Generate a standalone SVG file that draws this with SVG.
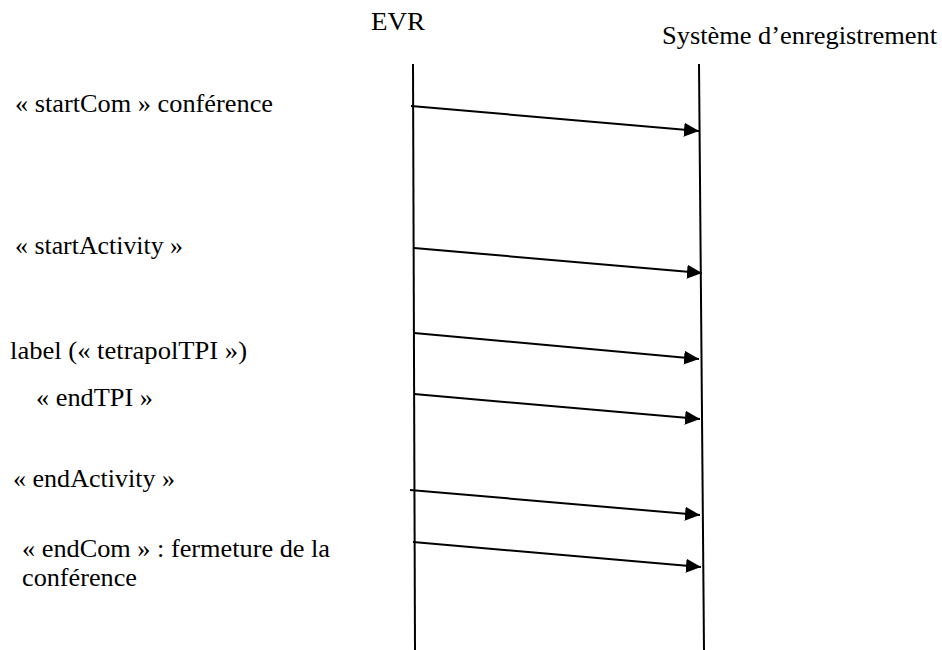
<svg xmlns="http://www.w3.org/2000/svg" width="942" height="650" viewBox="0 0 942 650">
<style>
.t{font-size:25px;fill:#000}
.life{stroke:#000;stroke-width:2;fill:none}
.msg{stroke:#000;stroke-width:2;fill:none}
</style>
<defs>
<marker id="ah" markerWidth="16" markerHeight="14" refX="15" refY="7" orient="auto" markerUnits="userSpaceOnUse">
<path d="M0,0 L15,7 L0,14 Z" fill="#000"/>
</marker>
</defs>
<rect width="942" height="650" fill="#fff"/>
<g id="evr" font-family="Liberation Serif, serif">
<text class="t" x="371" y="30" textLength="54" lengthAdjust="spacingAndGlyphs">EVR</text>
<line class="life" x1="413" y1="64" x2="415" y2="650"/>
</g>
<g id="systeme" font-family="Liberation Serif, serif">
<text class="t" x="662" y="44" textLength="275" lengthAdjust="spacingAndGlyphs">Système d’enregistrement</text>
<line class="life" x1="699" y1="64" x2="704" y2="650"/>
</g>
<g id="labels" font-family="Liberation Serif, serif">
<text class="t" x="15" y="112" textLength="258" lengthAdjust="spacingAndGlyphs">« startCom » conférence</text>
<text class="t" x="15" y="254" textLength="168" lengthAdjust="spacingAndGlyphs">« startActivity »</text>
<text class="t" x="10" y="359" textLength="237" lengthAdjust="spacingAndGlyphs">label (« tetrapolTPI »)</text>
<text class="t" x="36" y="406" textLength="117" lengthAdjust="spacingAndGlyphs">« endTPI »</text>
<text class="t" x="13" y="487" textLength="162" lengthAdjust="spacingAndGlyphs">« endActivity »</text>
<text class="t" x="22" y="557" textLength="308" lengthAdjust="spacingAndGlyphs">« endCom » : fermeture de la</text>
<text class="t" x="22" y="586" textLength="115" lengthAdjust="spacingAndGlyphs">conférence</text>
</g>
<g id="connectors">
<line class="msg" x1="411" y1="106" x2="699" y2="131" marker-end="url(#ah)"/>
<line class="msg" x1="414" y1="248" x2="702" y2="273" marker-end="url(#ah)"/>
<line class="msg" x1="414" y1="333" x2="699" y2="359" marker-end="url(#ah)"/>
<line class="msg" x1="414" y1="394" x2="700" y2="419" marker-end="url(#ah)"/>
<line class="msg" x1="410" y1="490" x2="700" y2="515" marker-end="url(#ah)"/>
<line class="msg" x1="413" y1="542" x2="701" y2="567" marker-end="url(#ah)"/>
</g>
</svg>
